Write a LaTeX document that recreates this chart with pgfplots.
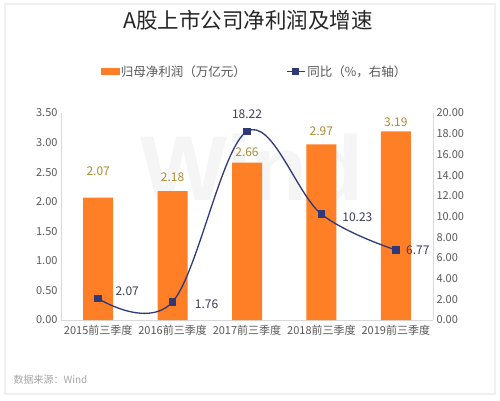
\documentclass[border=0pt]{standalone}
\usepackage{fontspec}
\setmainfont{Noto Sans CJK SC}
\newfontfamily\wmfont{Liberation Sans}
\usepackage{pgfplots}
\usepackage{pgfplotstable}
\pgfplotsset{compat=1.18}

\definecolor{barorange}{RGB}{255,127,39}
\definecolor{lineblue}{RGB}{47,57,120}
\definecolor{labgold}{RGB}{170,140,50}
\definecolor{labnavy}{RGB}{60,62,85}
\definecolor{ticktxt}{RGB}{89,89,89}
\definecolor{axgray}{RGB}{217,217,217}

% net profit (trillion yuan), dy = label lift above bar top
\pgfplotstableread{
x y dy
0 2.07 26
1 2.18 14
2 2.66 10
3 2.97 13
4 3.19 9
}\profit

% yoy growth (%), dx/dy = label offset from marker
\pgfplotstableread{
x y dx dy
0 2.07 29 7
1 1.76 34 -2
2 18.22 0 17
3 10.23 36 -3
4 6.77 22 0
}\growth

\begin{document}
\begin{tikzpicture}
\path[use as bounding box] (0,0) rectangle (500pt,400pt);
\fill[white] (0,0) rectangle (500pt,400pt);
\draw[gray!12, line width=2pt, fill=white] (5pt,6pt) rectangle (495pt,396pt);

\node[text=black!85] at (248pt,380pt) {\fontsize{21.5}{24}\selectfont A股上市公司净利润及增速};
\node[anchor=west, text=gray!70] at (10pt,20pt) {\fontsize{10}{12}\selectfont 数据来源：Wind};
\node[text=gray!8] at (252pt,232pt) {\wmfont\bfseries\fontsize{92}{92}\selectfont Wind};

\pgfplotsset{
  every axis/.append style={
    scale only axis,
    width=372pt, height=207pt,
    at={(61pt,80pt)}, anchor=south west,
    xmin=-0.5, xmax=4.5,
    ymin=0,
    axis line style={axgray},
    tick label style={text=ticktxt, font=\fontsize{11}{13}\selectfont},
    /pgf/number format/assume math mode=true,
    yticklabel style={/pgf/number format/.cd, fixed, fixed zerofill, precision=2},
    ytick style={draw=none},
  },
}

\begin{axis}[
  ymax=3.5,
  ytick={0,0.5,...,3.5},
  axis x line*=bottom,
  axis y line*=left,
  xtick={0,...,4},
  xticklabels={2015前三季度,2016前三季度,2017前三季度,2018前三季度,2019前三季度},
  major x tick style={draw=none},
  extra x ticks={-0.5,0.5,1.5,2.5,3.5,4.5},
  extra x tick labels={},
  extra x tick style={major tick length=4pt, tick align=outside, tick style={draw=axgray}},
  xticklabel style={yshift=-2pt},
]
\addplot[ybar, bar width=30pt, fill=barorange, draw=none,
  visualization depends on={\thisrow{dy}\as\dy},
  point meta=y,
  nodes near coords,
  nodes near coords style={
    anchor=center, yshift=\dy pt, text=labgold,
    font=\fontsize{12}{14}\selectfont,
    /pgf/number format/.cd, fixed, fixed zerofill, precision=2, assume math mode=true},
] table[x=x, y=y] {\profit};
\end{axis}

\begin{axis}[
  ymax=20,
  ytick={0,2,...,20},
  axis y line*=right,
  hide x axis,
  legend style={at={(0.52,1.2)}, anchor=center, draw=none, fill=none,
    legend columns=2, font=\fontsize{12.5}{14}\selectfont, text=ticktxt,
    /tikz/every even column/.append style={column sep=38pt}},
]
\addlegendimage{legend image code/.code={\fill[barorange] (0pt,-3pt) rectangle (18pt,3pt);}}
\addlegendentry{归母净利润（万亿元）}
\addplot[lineblue, line width=1.3pt, smooth, tension=0.6, mark=square*, mark size=3.2pt,
  mark options={fill=lineblue, draw=lineblue},
  visualization depends on={\thisrow{dx}\as\dx},
  visualization depends on={\thisrow{dy}\as\dy},
  point meta=y,
  nodes near coords,
  nodes near coords style={
    anchor=center, xshift=\dx pt, yshift=\dy pt, text=labnavy,
    font=\fontsize{12}{14}\selectfont,
    /pgf/number format/.cd, fixed, fixed zerofill, precision=2, assume math mode=true},
  legend image code/.code={
    \draw[lineblue, line width=1.3pt] (0pt,0pt) -- (18pt,0pt);
    \fill[lineblue] (6pt,-3pt) rectangle (12pt,3pt);},
] table[x=x, y=y] {\growth};
\addlegendentry{同比（\%，右轴）}
\end{axis}
\end{tikzpicture}
\end{document}
